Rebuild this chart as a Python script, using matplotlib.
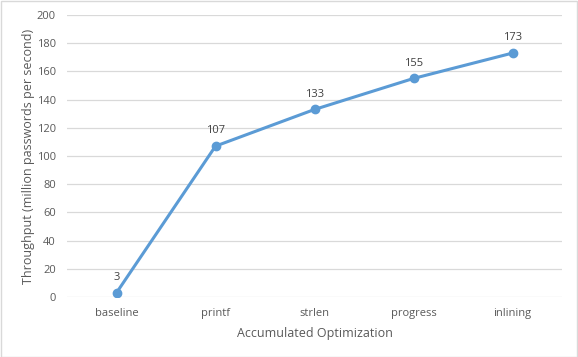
import matplotlib
matplotlib.use("Agg")
import matplotlib.pyplot as plt
from matplotlib.patches import Rectangle

categories = ["baseline", "printf", "strlen", "progress", "inlining"]
values = [3, 107, 133, 155, 173]
yticks = [0, 20, 40, 60, 80, 100, 120, 140, 160, 180, 200]

plt.rcParams['font.family'] = ['Open Sans', 'DejaVu Sans']
fig = plt.figure(figsize=(5.78, 3.57), dpi=100)
ax = fig.add_axes([67/578, 1-297/357, (562-67)/578, (297-15)/357])
x = list(range(len(categories)))
ax.plot(x, values, color='#5B9BD5', lw=2.2, marker='o', ms=6, zorder=3)
for xi, v in zip(x, values):
    ax.annotate(str(v), (xi, v), xytext=(0, 7), textcoords='offset points',
                ha='center', va='bottom', fontsize=8, color='#404040')
ax.set_xlim(-0.5, len(categories)-0.5)
ax.set_ylim(0, 200)
ax.set_yticks(yticks)
ax.set_xticks(x)
ax.set_xticklabels(categories)
for s in ax.spines.values():
    s.set_visible(False)
ax.grid(axis='y', color='#D9D9D9', lw=0.9)
ax.set_axisbelow(True)
ax.tick_params(length=0, labelsize=8, colors='#595959', pad=8)
ax.tick_params(axis='y', pad=8)
ax.set_xlabel('Accumulated Optimization', fontsize=9, color='#595959', labelpad=6)
ax.set_ylabel('Throughput (million passwords per second)', fontsize=9, color='#595959', labelpad=1)
fig.patches.append(Rectangle((0.5/578, 0.5/357), 1-1.5/578, 1-1.5/357, transform=fig.transFigure,
                             fill=False, edgecolor='#D9D9D9', lw=1))
fig.savefig('out.png', dpi=100)
